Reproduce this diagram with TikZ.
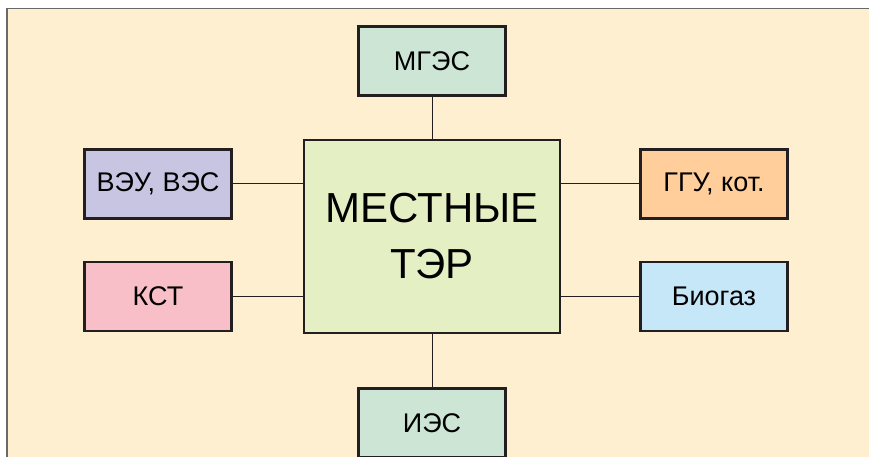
\documentclass[tikz,border=0pt]{standalone}
\usepackage{fontspec}
\setmainfont{Liberation Sans}
\usetikzlibrary{positioning}
\definecolor{terBorder}{RGB}{35,31,32}
\definecolor{frameGray}{RGB}{105,105,108}
\definecolor{paperCream}{RGB}{254,239,208}
\definecolor{terGreen}{RGB}{229,239,196}
\definecolor{hydroMint}{RGB}{204,229,213}
\definecolor{windLav}{RGB}{200,197,227}
\definecolor{kstPink}{RGB}{248,191,200}
\definecolor{gguOrange}{RGB}{255,206,154}
\definecolor{bioBlue}{RGB}{197,231,248}

\begin{document}
\begin{tikzpicture}[x=1pt, y=1pt,
  srcbox/.style={draw=terBorder, line width=2.4pt, minimum width=147pt, minimum height=69pt, inner sep=0pt, font=\fontsize{27}{31}\selectfont},
  link/.style={draw=terBorder, line width=1pt}]
\useasboundingbox (0,0) rectangle (869,457);
\fill[paperCream] (7,0) rectangle (869,448.5);
\draw[frameGray, line width=1.4pt] (7,0) -- (7,448.5) -- (869,448.5);

\node[draw=terBorder, fill=terGreen, line width=2.4pt, minimum width=256pt, minimum height=193pt, align=center, font=\fontsize{42}{56}\selectfont] (ter) at (432,220.5) {МЕСТНЫЕ\\ТЭР};
\node[srcbox, fill=hydroMint, above=42pt of ter] (mges) {МГЭС};
\node[srcbox, fill=hydroMint, below=53pt of ter] (ies) {ИЭС};
\node[srcbox, fill=windLav] (vey) at (158,273) {ВЭУ, ВЭС};
\node[srcbox, fill=kstPink] (kst) at (158,160.5) {КСТ};
\node[srcbox, fill=gguOrange] (ggu) at (714,273) {ГГУ, кот.};
\node[srcbox, fill=bioBlue] (bio) at (714,160.5) {Биогаз};

\draw[link] (mges) -- (ter);
\draw[link] (ter) -- (ies);
\draw[link] (vey.east) -- (vey.east -| ter.west);
\draw[link] (kst.east) -- (kst.east -| ter.west);
\draw[link] (ggu.west) -- (ggu.west -| ter.east);
\draw[link] (bio.west) -- (bio.west -| ter.east);
\end{tikzpicture}
\end{document}
